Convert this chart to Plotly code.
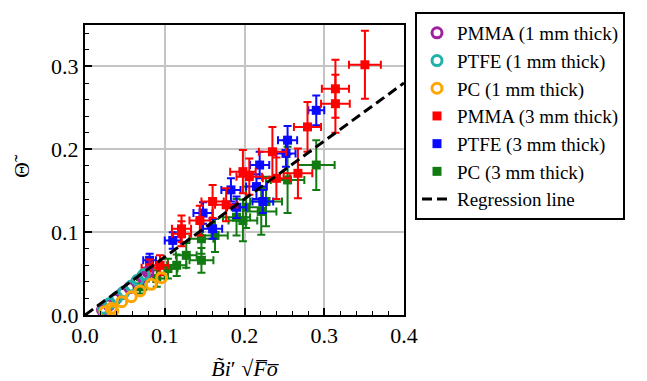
import plotly.graph_objects as go

# 1 mm thick samples (open circles)
pmma1_x = [0.022, 0.030, 0.038, 0.047, 0.056, 0.065, 0.072, 0.079]
pmma1_y = [0.006, 0.012, 0.019, 0.026, 0.033, 0.040, 0.046, 0.052]
ptfe1_x = [0.023, 0.031, 0.040, 0.049, 0.058, 0.066, 0.074]
ptfe1_y = [0.008, 0.014, 0.021, 0.028, 0.035, 0.042, 0.049]
pc1_x = [0.025, 0.033, 0.035, 0.046, 0.058, 0.069, 0.083, 0.096]
pc1_y = [0.004, 0.008, 0.005, 0.016, 0.022, 0.029, 0.037, 0.045]

# 3 mm thick samples (filled squares with error bars)
pmma3_x = [0.081, 0.094, 0.121, 0.121, 0.144, 0.160, 0.177, 0.198, 0.206, 0.235, 0.240, 0.267, 0.279, 0.314, 0.314, 0.351]
pmma3_y = [0.057, 0.060, 0.104, 0.098, 0.114, 0.137, 0.133, 0.173, 0.167, 0.197, 0.165, 0.171, 0.227, 0.273, 0.255, 0.302]
pmma3_ex = [0.010, 0.010, 0.012, 0.012, 0.013, 0.014, 0.014, 0.016, 0.016, 0.017, 0.017, 0.018, 0.017, 0.017, 0.018, 0.020]
pmma3_ey = [0.010, 0.012, 0.016, 0.015, 0.018, 0.020, 0.020, 0.026, 0.022, 0.030, 0.025, 0.030, 0.030, 0.035, 0.035, 0.041]

ptfe3_x = [0.081, 0.110, 0.148, 0.160, 0.183, 0.190, 0.215, 0.219, 0.223, 0.252, 0.254, 0.290]
ptfe3_y = [0.066, 0.090, 0.123, 0.104, 0.151, 0.130, 0.155, 0.181, 0.137, 0.195, 0.211, 0.247]
ptfe3_ex = [0.008, 0.010, 0.012, 0.012, 0.012, 0.012, 0.013, 0.012, 0.013, 0.012, 0.012, 0.010]
ptfe3_ey = [0.008, 0.010, 0.013, 0.012, 0.014, 0.013, 0.015, 0.016, 0.014, 0.016, 0.017, 0.018]

pc3_x = [0.069, 0.090, 0.104, 0.115, 0.127, 0.146, 0.146, 0.163, 0.190, 0.198, 0.202, 0.221, 0.227, 0.254, 0.290]
pc3_y = [0.034, 0.044, 0.056, 0.060, 0.072, 0.066, 0.092, 0.096, 0.118, 0.114, 0.130, 0.125, 0.137, 0.163, 0.181]
pc3_ex = [0.008, 0.010, 0.012, 0.012, 0.013, 0.015, 0.015, 0.016, 0.017, 0.018, 0.018, 0.019, 0.020, 0.021, 0.023]
pc3_ey = [0.008, 0.010, 0.012, 0.013, 0.015, 0.015, 0.018, 0.020, 0.022, 0.025, 0.025, 0.028, 0.030, 0.040, 0.030]

# regression line
reg_x = [0.0, 0.4]
reg_y = [0.0, 0.28]

x_ticks = [0.0, 0.1, 0.2, 0.3, 0.4]
y_ticks = [0.0, 0.1, 0.2, 0.3]

FONT = "Times, serif"

fig = go.Figure()

def sq_trace(x, y, ex, ey, color, name, rank):
    return go.Scatter(
        x=x, y=y, mode="markers", name=name, legendrank=rank,
        marker=dict(symbol="square", size=9, color=color),
        error_x=dict(type="data", array=ex, color=color, thickness=2, width=4),
        error_y=dict(type="data", array=ey, color=color, thickness=2, width=4),
    )

fig.add_trace(sq_trace(pc3_x, pc3_y, pc3_ex, pc3_ey, "#117a11", "PC (3 mm thick)", 6))
fig.add_trace(sq_trace(ptfe3_x, ptfe3_y, ptfe3_ex, ptfe3_ey, "#0a0aff", "PTFE (3 mm thick)", 5))
fig.add_trace(sq_trace(pmma3_x, pmma3_y, pmma3_ex, pmma3_ey, "#ff0000", "PMMA (3 mm thick)", 4))

def circ_trace(x, y, color, name, rank):
    return go.Scatter(
        x=x, y=y, mode="markers", name=name, legendrank=rank,
        marker=dict(symbol="circle-open", size=10, color=color, line=dict(width=3, color=color)),
    )

fig.add_trace(circ_trace(pmma1_x, pmma1_y, "#a020a0", "PMMA (1 mm thick)", 1))
fig.add_trace(circ_trace(ptfe1_x, ptfe1_y, "#20b2aa", "PTFE (1 mm thick)", 2))
fig.add_trace(circ_trace(pc1_x, pc1_y, "#ffa500", "PC (1 mm thick)", 3))

fig.add_trace(go.Scatter(
    x=reg_x, y=reg_y, mode="lines", name="Regression line", legendrank=7,
    line=dict(color="black", width=3, dash="10px,5px"),
))

axis_common = dict(
    showline=True, linecolor="black", linewidth=2, mirror=True,
    ticks="inside", ticklen=7, tickwidth=1.5, tickcolor="black",
    showgrid=True, gridcolor="#c4c4c4", gridwidth=1.5,
    zeroline=False, automargin=False,
    tickfont=dict(family=FONT, size=22, color="black"),
    minor=dict(dtick=0.02, ticks="inside", ticklen=4, tickwidth=1.2, tickcolor="black", showgrid=False),
)

# the page body adds an 8 px offset, so the figure is 8 px smaller and margins shifted
fig.update_layout(
    width=639, height=373,
    margin=dict(l=77, r=243, t=17, b=66),
    paper_bgcolor="white", plot_bgcolor="white",
    font=dict(family=FONT, color="black"),
    xaxis=dict(range=[0, 0.4], tickvals=x_ticks, ticktext=[f"{v:.1f}" for v in x_ticks],
               title=dict(text="<i>B̃i</i>′ √<i>F̅o̅</i>", font=dict(family=FONT, size=22)),
               **axis_common),
    yaxis=dict(range=[0, 0.35], tickvals=y_ticks, ticktext=[f"{v:.1f}" for v in y_ticks],
               title=dict(text="Θ̃", font=dict(family=FONT, size=22)),
               **axis_common),
    legend=dict(
        xref="container", yref="container",
        x=(415 - 8) / 639, y=1 - (12 - 8) / 373, xanchor="left", yanchor="top", maxheight=330,
        bordercolor="black", borderwidth=2, bgcolor="white",
        font=dict(family=FONT, size=19, color="black"),
        tracegroupgap=0, itemwidth=30, itemsizing="trace",
    ),
    showlegend=True,
)

fig.write_html("out.html")
